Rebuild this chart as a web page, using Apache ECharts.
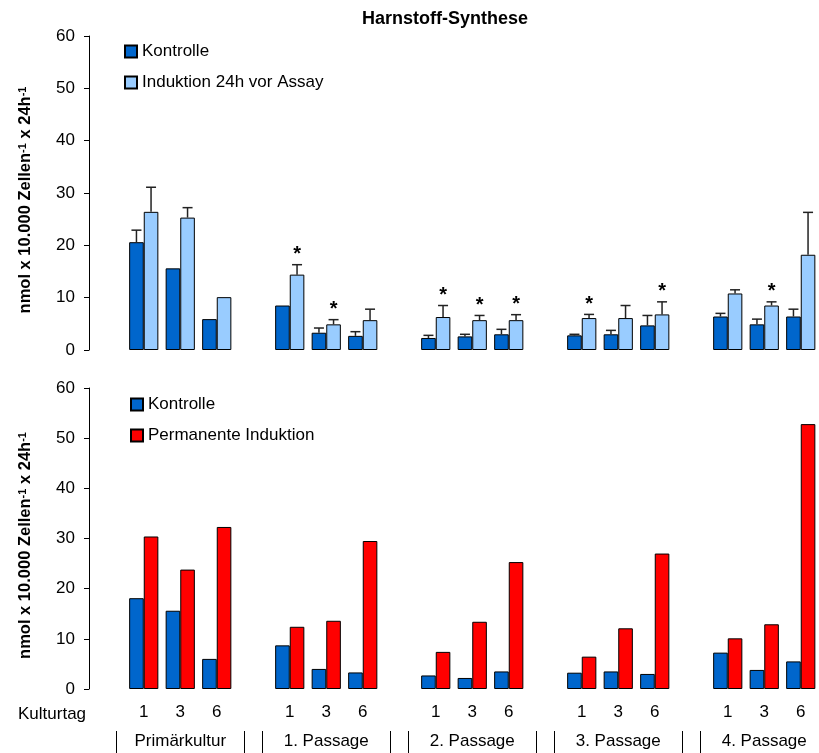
<!DOCTYPE html>
<html>
<head>
<meta charset="utf-8">
<script src="https://cdn.jsdelivr.net/npm/echarts@6/dist/echarts.min.js"></script>
<style>html,body{margin:0;padding:0;background:#fff;}#c{width:819px;height:753px;}</style>
</head>
<body>
<div id="c"></div>
<script>
// ---- data ----
var days = ['1', '3', '6'];
var groups = ['Primärkultur', '1. Passage', '2. Passage', '3. Passage', '4. Passage'];
var yTicks = [0, 10, 20, 30, 40, 50, 60];

// top chart (mean, SD)
var topKontrolle      = [20.6, 15.6, 5.9,  8.5, 3.3, 2.7,  2.3, 2.6, 3.0,  2.8, 3.0, 4.7,  6.4, 4.9, 6.4];
var topKontrolleSD    = [2.3,  0,    0,    0,   0.9, 0.8,  0.5, 0.4, 0.95, 0.2, 0.75, 1.9, 0.6, 1.0, 1.4];
var topInduktion      = [26.4, 25.3, 10.1, 14.4, 4.9, 5.7, 6.3, 5.7, 5.7,  6.1, 6.1, 6.8,  10.8, 8.5, 18.2];
var topInduktionSD    = [4.7,  1.9,  0,    1.9, 0.9, 2.1,  2.2, 0.9, 1.05, 0.7, 2.4, 2.4,  0.7, 0.7, 8.1];
var topStars          = [0, 0, 0,  1, 1, 0,  1, 1, 1,  1, 0, 1,  0, 1, 0];

// bottom chart
var bottomKontrolle   = [18.1, 15.6, 6.0,  8.7, 4.0, 3.3,  2.7, 2.2, 3.5,  3.25, 3.5, 3.0,  7.25, 3.8, 5.5];
var bottomPermanent   = [30.4, 23.8, 32.3, 12.4, 13.6, 29.5, 7.4, 13.4, 25.3, 6.45, 12.1, 27.0, 10.1, 12.9, 52.8];

// ---- build category layout: a gap slot before each group ----
var cats = [], groupCats = [], pos = [];
groups.forEach(function (g, gi) {
  cats.push(''); groupCats.push('');
  days.forEach(function (d, di) {
    pos.push(cats.length);
    cats.push(d);
    groupCats.push(di === 1 ? g : '');
  });
});
function expand(arr) {
  var out = cats.map(function () { return null; });
  arr.forEach(function (v, i) { out[pos[i]] = v; });
  return out;
}
function errData(vals, sds, stars) {
  return vals.map(function (v, i) {
    return [pos[i], v, v + sds[i], stars ? stars[i] : 0];
  });
}
var sepCats = [];
for (var k = 0; k < cats.length * 4; k++) sepCats.push('');

var FONT = 'Liberation Sans, Arial, sans-serif';
var C_DARK = '#0066CC', C_LIGHT = '#99CCFF', C_RED = '#FF0000';

function makeErr(side) {
  return function (params, api) {
    var x = api.value(0), v = api.value(1), e = api.value(2), star = api.value(3);
    var band = api.size([1, 0])[0];
    var off = side * band * 0.2;
    var p0 = api.coord([x, v]);
    var p1 = api.coord([x, e]);
    var cx = p0[0] + off;
    var children = [];
    if (e > v) {
      children.push({ type: 'line', shape: { x1: cx, y1: p0[1], x2: cx, y2: p1[1] }, style: { stroke: '#222', lineWidth: 1.5 } });
      children.push({ type: 'line', shape: { x1: cx - 5, y1: p1[1], x2: cx + 5, y2: p1[1] }, style: { stroke: '#222', lineWidth: 1.5 } });
    }
    if (star) {
      children.push({ type: 'text', x: cx, y: p1[1] - 10, style: { text: '*', align: 'center', verticalAlign: 'middle', fontSize: 20, fontWeight: 'bold', fontFamily: FONT, fill: '#000' } });
    }
    return { type: 'group', children: children };
  };
}

function yAxisCfg(gi) {
  return {
    type: 'value', gridIndex: gi, min: yTicks[0], max: yTicks[yTicks.length - 1], interval: 10,
    axisLine: { show: true, lineStyle: { color: '#000', width: 1 } },
    axisTick: { show: true, length: 5, lineStyle: { color: '#000' } },
    splitLine: { show: false },
    axisLabel: { fontSize: 17, color: '#000', margin: 14, fontFamily: FONT },
    name: 'nmol x 10.000 Zellen{s|-1} x 24h{s|-1}',
    nameLocation: 'middle', nameGap: 55, nameRotate: 90,
    nameTextStyle: {
      fontSize: 16.5, fontWeight: 'bold', color: '#000', fontFamily: FONT, padding: [0, 14, 0, 0],
      rich: { s: { fontSize: 11, fontWeight: 'bold', color: '#000', fontFamily: FONT, verticalAlign: 'top' } }
    }
  };
}

var barStyle = function (c) { return { color: c, borderColor: '#000', borderWidth: 1 }; };

var option = {
  animation: false,
  backgroundColor: '#fff',
  textStyle: { fontFamily: FONT },
  title: [
    { text: 'Harnstoff-Synthese', left: 357, top: 5, textStyle: { fontSize: 18, fontWeight: 'bold', color: '#000', fontFamily: FONT } },
    { text: 'Kulturtag', left: 13, top: 701, textStyle: { fontSize: 17, fontWeight: 'normal', color: '#000', fontFamily: FONT } }
  ],
  legend: [
    { orient: 'vertical', left: 119, top: 38, itemWidth: 12, itemHeight: 12, itemGap: 14, icon: 'rect',
      data: ['Kontrolle', 'Induktion 24h vor Assay'], textStyle: { fontSize: 17, color: '#000', fontFamily: FONT } },
    { orient: 'vertical', left: 125, top: 391, itemWidth: 12, itemHeight: 12, itemGap: 14, icon: 'rect',
      data: ['Kontrolle ', 'Permanente Induktion'], textStyle: { fontSize: 17, color: '#000', fontFamily: FONT } }
  ],
  grid: [
    { left: 89, right: 0, top: 36, height: 314 },
    { left: 89, right: 0, top: 388, height: 301 },
    { left: 89, right: 0, top: 740, height: 1 },
    { left: 89, right: 0, top: 731, height: 22 }
  ],
  xAxis: [
    { type: 'category', gridIndex: 0, data: cats, axisLine: { show: false }, axisTick: { show: false }, axisLabel: { show: false } },
    { type: 'category', gridIndex: 1, data: cats, axisLine: { show: false }, axisTick: { show: false },
      axisLabel: { interval: 0, fontSize: 17, color: '#000', margin: 15, fontFamily: FONT } },
    { type: 'category', gridIndex: 2, data: groupCats, axisLine: { show: false }, axisTick: { show: false },
      axisLabel: { interval: 0, fontSize: 17, color: '#000', margin: 0, verticalAlign: 'middle', fontFamily: FONT } },
    { type: 'category', gridIndex: 3, data: sepCats, axisLine: { show: false }, axisLabel: { show: false },
      axisTick: { show: true, inside: true, length: 22, lineStyle: { color: '#000', width: 1 },
        interval: function (i) { return i % 16 === 3 || (i % 16 === 1 && i > 1); } } }
  ],
  yAxis: [
    yAxisCfg(0),
    yAxisCfg(1),
    { type: 'value', gridIndex: 2, show: false },
    { type: 'value', gridIndex: 3, show: false }
  ],
  series: [
    { name: 'Kontrolle', type: 'bar', xAxisIndex: 0, yAxisIndex: 0, data: expand(topKontrolle), barWidth: '40%', barGap: '0%', itemStyle: barStyle(C_DARK) },
    { name: 'Induktion 24h vor Assay', type: 'bar', xAxisIndex: 0, yAxisIndex: 0, data: expand(topInduktion), barWidth: '40%', barGap: '0%', itemStyle: barStyle(C_LIGHT) },
    { name: 'errK', type: 'custom', xAxisIndex: 0, yAxisIndex: 0, z: 5, renderItem: makeErr(-1), data: errData(topKontrolle, topKontrolleSD, null) },
    { name: 'errI', type: 'custom', xAxisIndex: 0, yAxisIndex: 0, z: 5, renderItem: makeErr(1), data: errData(topInduktion, topInduktionSD, topStars) },
    { name: 'Kontrolle ', type: 'bar', xAxisIndex: 1, yAxisIndex: 1, data: expand(bottomKontrolle), barWidth: '40%', barGap: '0%', itemStyle: barStyle(C_DARK) },
    { name: 'Permanente Induktion', type: 'bar', xAxisIndex: 1, yAxisIndex: 1, data: expand(bottomPermanent), barWidth: '40%', barGap: '0%', itemStyle: barStyle(C_RED) }
  ]
};
var chart = echarts.init(document.getElementById('c'), null, { renderer: 'canvas' });
chart.setOption(option);
</script>
</body>
</html>
